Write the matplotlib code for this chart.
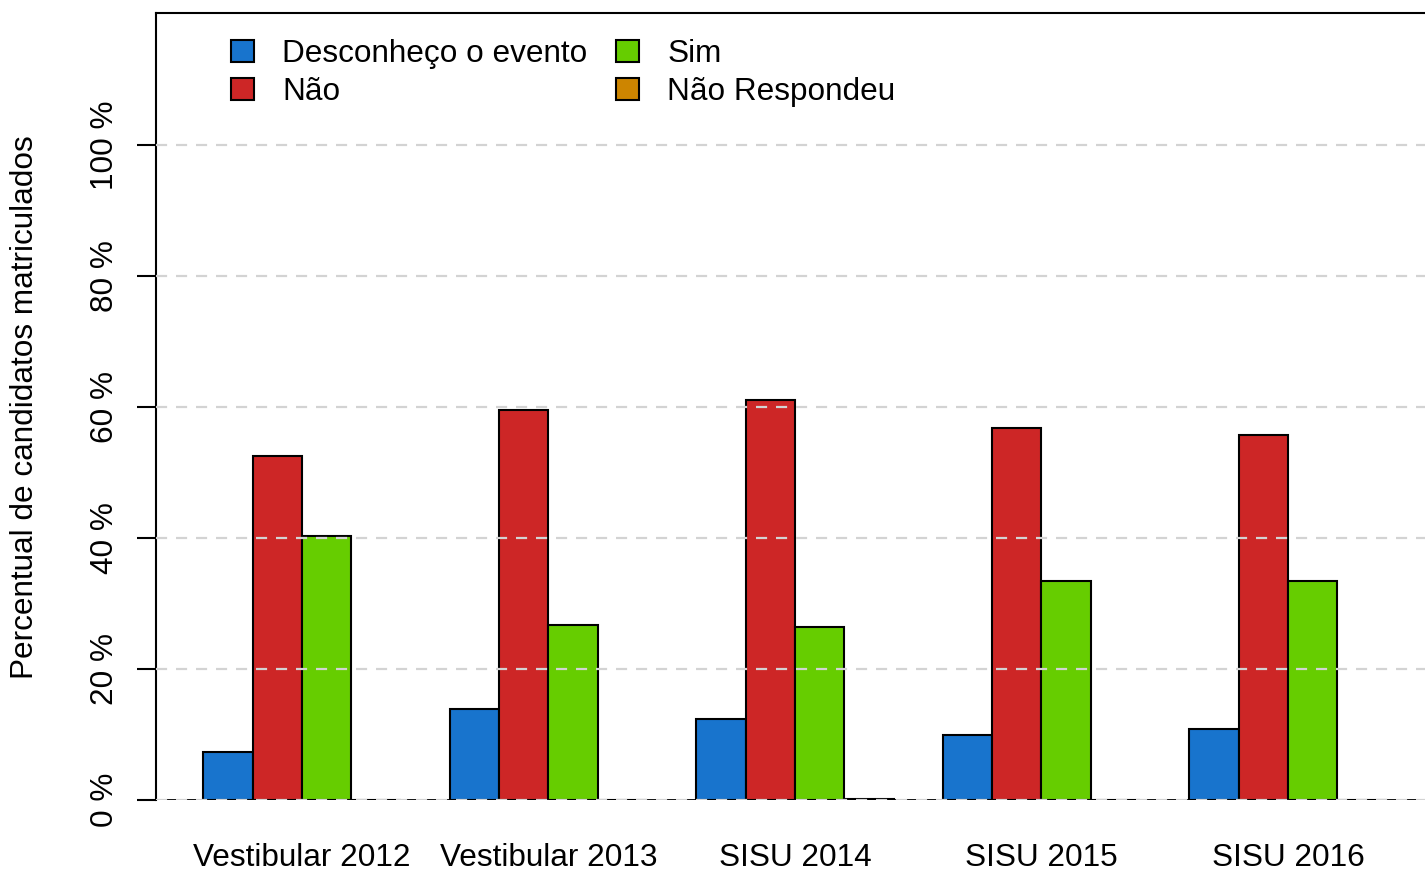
import matplotlib.pyplot as plt
from matplotlib.patches import Patch

plt.rcParams['font.family'] = ['Liberation Sans', 'DejaVu Sans']
plt.rcParams['font.size'] = 22.7

dpi = 100
W, H = 1425, 872

groups = ['Vestibular 2012', 'Vestibular 2013', 'SISU 2014', 'SISU 2015', 'SISU 2016']
categories = ['Desconheço o evento', 'Não', 'Sim', 'Não Respondeu']
desconheco = [7.3, 13.9, 12.4, 9.9, 10.8]
nao = [52.5, 59.5, 61.1, 56.8, 55.7]
sim = [40.3, 26.7, 26.4, 33.4, 33.4]
nao_respondeu = [0.0, 0.0, 0.2, 0.0, 0.0]
colors = ['#1874CD', '#CD2626', '#66CD00', '#CD8500']
yticks = [0, 20, 40, 60, 80, 100]

fig = plt.figure(figsize=(W / dpi, H / dpi), dpi=dpi)
ax = fig.add_axes([156 / W, (H - 800) / H, (W - 156) / W, (800 - 13) / H])

series = [desconheco, nao, sim, nao_respondeu]
# R-style barplot(beside=TRUE): groups of 4 unit-width bars, one unit gap
for j, vals in enumerate(series):
    xs = [1 + 5 * i + j + 0.5 for i in range(len(groups))]
    ax.bar(xs, vals, width=1.0, color=colors[j], edgecolor='black',
           linewidth=1.5, zorder=2)

ax.set_xlim(0.04, 0.04 + (W - 156) / 49.3)
ax.set_ylim(0, 120.2)

ax.axhline(0, color='black', lw=2, zorder=3)
for t in yticks:
    ax.axhline(t, color='#D3D3D3', lw=1.6, ls=(0, (5, 4)), zorder=4)

ax.set_xticks([3 + 5 * i for i in range(len(groups))])
ax.set_xticklabels(groups)
ax.tick_params(axis='x', length=0, pad=31)

ax.set_yticks(yticks)
ax.set_yticklabels([f'{t} %' for t in yticks], rotation=90, va='center')
ax.tick_params(axis='y', length=14, width=1.5, pad=12)

ax.spines['right'].set_visible(False)
ax.spines['bottom'].set_visible(False)
ax.spines['left'].set_linewidth(1.5)
ax.spines['top'].set_linewidth(1.5)

fig.text(25 / W, (H - 407) / H, 'Percentual de candidatos matriculados',
         rotation=90, ha='center', va='center')

handles = [Patch(facecolor=c, edgecolor='black', linewidth=1.5) for c in colors]
ax.legend(handles, categories, ncol=2, frameon=False, loc='upper left',
          bbox_to_anchor=(231 / W, (H - 39) / H), bbox_transform=fig.transFigure,
          handlelength=0.73, handleheight=0.73, handletextpad=0.9,
          columnspacing=0.9, labelspacing=0.25, borderpad=0, borderaxespad=0)

fig.savefig('out.png', dpi=dpi)
